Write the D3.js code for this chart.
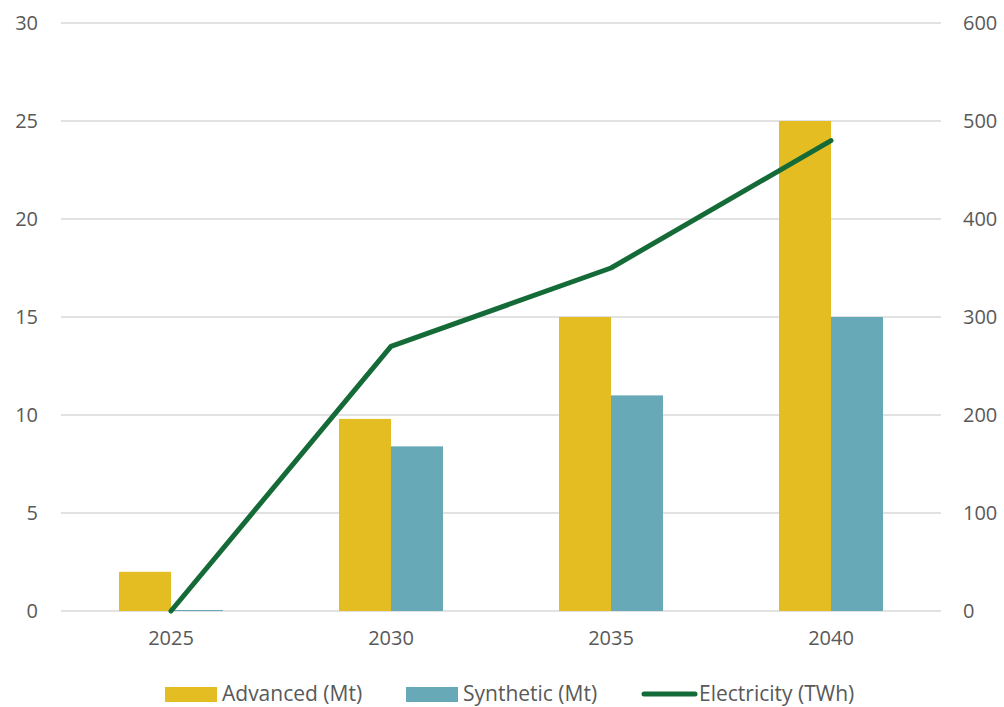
<!DOCTYPE html>
<html>
<head>
<meta charset="utf-8">
<script src="https://cdn.jsdelivr.net/npm/d3@7"></script>
<style>
  html, body { margin: 0; padding: 0; background: #fff; }
  svg { display: block; }
  text { font-family: "Open Sans", "Noto Sans", sans-serif; fill: #595959; }
</style>
</head>
<body>
<svg id="chart" width="1004" height="707"></svg>
<script>
// Production by year
const years = ["2025", "2030", "2035", "2040"];
const advanced = [2, 9.8, 15, 25];        // Mt
const synthetic = [0.05, 8.4, 11, 15];    // Mt
const electricity = [0, 270, 350, 480];   // TWh
const leftTicks = [0, 5, 10, 15, 20, 25, 30];
const rightTicks = [0, 100, 200, 300, 400, 500, 600];

const colors = { advanced: "#E3BD22", synthetic: "#67A9B7", electricity: "#156B38" };

const svg = d3.select("#chart");
const plot = { left: 61, right: 941, top: 23, bottom: 611 };
const tickFont = "20px";

const x = d3.scaleBand().domain(years).range([plot.left, plot.right]).paddingInner(0).paddingOuter(0);
const yL = d3.scaleLinear().domain([0, 30]).range([plot.bottom, plot.top]);
const yR = d3.scaleLinear().domain([0, 600]).range([plot.bottom, plot.top]);

// Horizontal gridlines
svg.append("g").selectAll("line").data(leftTicks).join("line")
  .attr("x1", plot.left).attr("x2", plot.right)
  .attr("y1", d => yL(d)).attr("y2", d => yL(d))
  .attr("stroke", "#d9d9d9").attr("stroke-width", 1.3);

function styleAxis(g) {
  g.select(".domain").remove();
  g.selectAll("text").style("font-size", tickFont).attr("fill", "#595959")
    .style("font-family", '"Open Sans", sans-serif');
}

// Left axis labels
const gL = svg.append("g").attr("transform", "translate(38,0)")
  .call(d3.axisLeft(yL).tickValues(leftTicks).tickSize(0).tickPadding(0));
styleAxis(gL);

// Right axis labels
const gR = svg.append("g").attr("transform", "translate(963,0)")
  .call(d3.axisRight(yR).tickValues(rightTicks).tickSize(0).tickPadding(0));
styleAxis(gR);

// Category labels
const gB = svg.append("g").attr("transform", `translate(0,${plot.bottom + 20})`)
  .call(d3.axisBottom(x).tickSize(0).tickPadding(0));
styleAxis(gB);

// Bars: two per category, centred on the band
const barW = 52;
const bars = svg.append("g");
bars.selectAll("rect.adv").data(years).join("rect")
  .attr("class", "adv")
  .attr("x", d => x(d) + x.bandwidth() / 2 - barW)
  .attr("width", barW)
  .attr("y", (d, i) => yL(advanced[i]))
  .attr("height", (d, i) => yL(0) - yL(advanced[i]))
  .attr("fill", colors.advanced);
bars.selectAll("rect.syn").data(years).join("rect")
  .attr("class", "syn")
  .attr("x", d => x(d) + x.bandwidth() / 2)
  .attr("width", barW)
  .attr("y", (d, i) => yL(synthetic[i]))
  .attr("height", (d, i) => yL(0) - yL(synthetic[i]))
  .attr("fill", colors.synthetic);

// Electricity line on the right axis
const line = d3.line()
  .x((d, i) => x(years[i]) + x.bandwidth() / 2)
  .y(d => yR(d));
svg.append("path").datum(electricity)
  .attr("d", line)
  .attr("fill", "none")
  .attr("stroke", colors.electricity)
  .attr("stroke-width", 5)
  .attr("stroke-linejoin", "round")
  .attr("stroke-linecap", "round");

// Legend
const legendY = 694;
const legend = svg.append("g");
const items = [
  { label: "Advanced (Mt)", type: "rect", color: colors.advanced, x: 165 },
  { label: "Synthetic (Mt)", type: "rect", color: colors.synthetic, x: 406 },
  { label: "Electricity (TWh)", type: "line", color: colors.electricity, x: 642 }
];
items.forEach(it => {
  if (it.type === "rect") {
    legend.append("rect").attr("x", it.x).attr("y", legendY - 7).attr("width", 52).attr("height", 15).attr("fill", it.color);
  } else {
    legend.append("line").attr("x1", it.x + 2).attr("x2", it.x + 53).attr("y1", legendY).attr("y2", legendY)
      .attr("stroke", it.color).attr("stroke-width", 5).attr("stroke-linecap", "round");
  }
  legend.append("text").attr("x", it.x + 57).attr("y", legendY).attr("dy", "0.35em")
    .style("font-size", "21px").text(it.label);
});
</script>
</body>
</html>
